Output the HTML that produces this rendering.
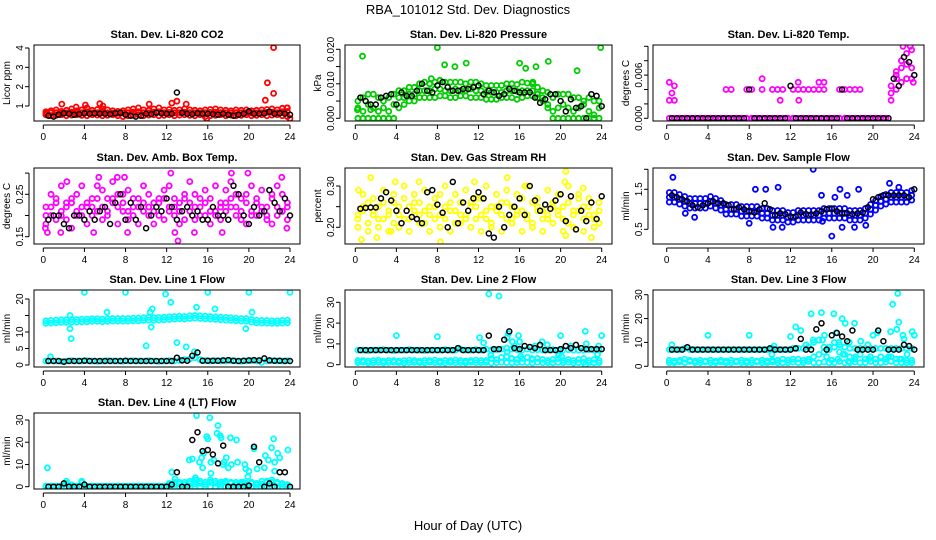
<!DOCTYPE html>
<html><head><meta charset="utf-8">
<style>
html,body{margin:0;padding:0;background:#fff;}
svg{display:block;font-family:"Liberation Sans",Arial,sans-serif;}
</style></head>
<body>
<svg id="chart" width="936" height="540" viewBox="0 0 936 540">
<text x="468" y="14" font-size="13" text-anchor="middle">RBA_101012  Std. Dev. Diagnostics</text>
<text x="468" y="530" font-size="13" text-anchor="middle">Hour of Day (UTC)</text>
</svg>
<script>
// ---- data (colored arrays: hour = 0.25 + 0.5*i ; black arrays: hour = 0.5*(i+1)) ----
const co2Lo=[0.55,0.5,0.52,0.55,0.5,0.53,0.55,0.52,0.5,0.55,0.53,0.5,0.52,0.55,0.5,0.45,0.5,0.52,0.55,0.5,0.53,0.55,0.5,0.52,0.55,0.5,0.53,0.55,0.52,0.5,0.55,0.45,0.5,0.52,0.55,0.5,0.53,0.5,0.52,0.55,0.5,0.52,0.55,0.5,0.53,0.55,0.5,0.45];
const co2Mid=[0.62,0.65,0.66,0.63,0.65,0.68,0.64,0.66,0.7,0.65,0.66,0.68,0.65,0.63,0.62,0.64,0.66,0.68,0.7,0.66,0.65,0.68,0.7,0.66,0.67,0.65,0.66,0.68,0.66,0.65,0.64,0.66,0.67,0.68,0.66,0.65,0.64,0.66,0.65,0.66,0.64,0.65,0.66,0.67,0.68,0.66,0.7,0.72];
const co2Hi=[0.7,0.75,0.8,0.72,0.78,0.85,0.75,0.8,0.9,0.78,0.82,0.85,0.8,0.75,0.72,0.75,0.8,0.85,0.9,0.8,0.78,0.85,0.9,0.8,0.82,0.78,0.8,0.85,0.8,0.78,0.75,0.8,0.82,0.85,0.8,0.78,0.75,0.8,0.78,0.8,0.75,0.78,0.8,0.82,0.85,0.8,0.88,0.9];
const co2Out=[[1.8,1.1],[3.2,0.95],[4.1,1.05],[5.5,1.12],[5.8,1.0],[10.3,1.1],[12.5,1.15],[13,1.25],[13.9,1.1],[21.6,1.3],[21.8,2.2],[22.4,1.65],[22.4,4.02],[15.9,0.35],[24,0.35],[23.7,0.9]];
const co2Black=[0.5,0.45,0.55,0.62,0.6,0.55,0.58,0.62,0.6,0.62,0.6,0.6,0.58,0.62,0.65,0.55,0.5,0.45,0.5,0.6,0.58,0.65,0.62,0.6,0.6,1.7,0.65,0.6,0.58,0.62,0.6,0.6,0.58,0.55,0.6,0.55,0.5,0.55,0.6,0.72,0.6,0.6,0.62,0.7,0.6,0.62,0.6,0.55];

const presLo=[0,0,0,0,0,0,0,0,0.003,0.004,0.005,0.005,0.006,0.006,0.006,0.006,0.0065,0.0065,0.006,0.006,0.0065,0.0065,0.006,0.006,0.006,0.0055,0.0055,0.0055,0.006,0.006,0.006,0.0055,0.006,0.0065,0.0065,0.006,0.005,0.003,0,0,0,0,0,0,0,0,0,0];
const presMid=[0.003,0.002,0.004,0.003,0.002,0.003,0.002,0.004,0.006,0.006,0.007,0.007,0.008,0.008,0.008,0.0085,0.0085,0.008,0.008,0.0085,0.008,0.008,0.0085,0.008,0.008,0.0075,0.0075,0.0075,0.0075,0.008,0.008,0.0078,0.008,0.008,0.008,0.007,0.006,0.004,0.002,0.003,0.004,0.003,0.002,0.003,0.004,0.002,0.001,0.003];
const presHi=[0.005,0.006,0.007,0.007,0.006,0.005,0.006,0.007,0.008,0.008,0.009,0.009,0.010,0.0105,0.010,0.0105,0.011,0.0105,0.0105,0.0105,0.0105,0.010,0.0105,0.0105,0.010,0.0095,0.0095,0.0095,0.0095,0.010,0.010,0.0098,0.0105,0.0102,0.010,0.009,0.008,0.0075,0.006,0.007,0.007,0.007,0.006,0.006,0.005,0.006,0.005,0.005];
const presOut=[[0.7,0.018],[8,0.0205],[8.7,0.0155],[9.7,0.015],[10.8,0.016],[16,0.016],[16.6,0.0145],[17.6,0.015],[18.8,0.0165],[21.6,0.0138],[23.9,0.0205],[0.2,0.0025],[1.5,0.0025],[7.4,0.0115],[17.3,0.0105]];
const presBlack=[0.006,0.005,0.004,0.004,0.006,0.0065,0.007,0.004,0.0075,0.0065,0.0065,0.008,0.010,0.008,0.0075,0.0095,0.0105,0.009,0.008,0.008,0.0085,0.0085,0.009,0.0095,0.007,0.008,0.0075,0.0065,0.007,0.0085,0.008,0.0075,0.0075,0.0075,0.006,0.0045,0.0055,0.007,0.007,0.005,0.002,0.0055,0.003,0.0035,0,0.007,0.0065,0.0035];

const tempLo=[0,0,0,0,0,0,0,0,0,0,0,0,0,0,0,0,0,0,0,0,0,0,0,0,0,0,0,0,0,0,0,0,0,0,0,0,0,0,0,0,0,0,0,0.0025,0.004,0.005,0.0055,0.0055];
const tempMid=[0.0025,0.0025,0,0,0,0,0,0,0,0,0,0.004,0.004,0,0,0.004,0.004,0,0.004,0,0.004,0.004,0.004,0,0.004,0.004,0.004,0.004,0.004,0.004,0.004,0,0,0.004,0.004,0.004,0.004,0.004,0,0,0,0,0,0.0035,0.006,0.007,0.0075,0.007];
const tempHi=[0.005,0.0045,0,0,0,0,0,0,0,0,0,0,0,0,0,0,0,0,0.0055,0,0,0,0,0,0,0.005,0,0,0,0.005,0.005,0,0,0,0,0,0,0,0,0,0,0,0,0.0045,0.0065,0.008,0.009,0.0095];
const tempOut=[[22.9,0.01],[23.6,0.01],[22.3,0.0055],[23.9,0.005],[0.5,0.0035],[11,0.0025],[12.8,0.0025]];
const tempBlack=[0,0,0,0,0,0,0,0,0,0,0,0,0,0,0,0.004,0,0,0,0,0,0,0,0.0045,0,0,0,0,0,0,0,0,0,0.004,0,0,0,0,0,0,0,0,0,0.0055,0.0045,0.0085,0.0078,0.006];

const ambA=[0.22,0.2,0.24,0.21,0.19,0.23,0.25,0.2,0.22,0.24,0.21,0.26,0.2,0.23,0.22,0.25,0.19,0.24,0.22,0.21,0.25,0.23,0.2,0.26,0.22,0.24,0.21,0.19,0.23,0.25,0.22,0.2,0.24,0.21,0.23,0.26,0.22,0.2,0.24,0.25,0.21,0.23,0.22,0.2,0.24,0.22,0.21,0.23];
const ambB=[0.18,0.25,0.19,0.27,0.23,0.17,0.21,0.27,0.18,0.2,0.27,0.19,0.24,0.28,0.18,0.21,0.26,0.2,0.18,0.27,0.2,0.18,0.24,0.19,0.27,0.2,0.18,0.25,0.28,0.19,0.2,0.26,0.18,0.27,0.19,0.21,0.28,0.25,0.19,0.18,0.27,0.2,0.26,0.19,0.18,0.27,0.25,0.19];
const ambC=[0.2,0.22,0.23,0.2,0.22,0.24,0.2,0.22,0.23,0.22,0.24,0.22,0.21,0.24,0.25,0.23,0.21,0.22,0.24,0.23,0.22,0.21,0.23,0.24,0.21,0.22,0.23,0.24,0.21,0.22,0.24,0.23,0.21,0.2,0.22,0.23,0.24,0.22,0.21,0.23,0.2,0.24,0.21,0.22,0.25,0.2,0.21,0.22];
const ambOut=[[0.2,0.17],[0.4,0.16],[1.7,0.16],[2.3,0.28],[4.9,0.16],[5.4,0.29],[7.2,0.29],[7.9,0.29],[8.2,0.16],[12.4,0.3],[12.8,0.16],[13.1,0.14],[13.3,0.32],[14.7,0.16],[17.4,0.16],[18.3,0.3],[19.9,0.3],[20.6,0.32],[23.2,0.29],[23.7,0.17]];
const ambBlack=[0.19,0.2,0.2,0.18,0.17,0.2,0.2,0.19,0.21,0.19,0.21,0.22,0.18,0.23,0.25,0.19,0.23,0.19,0.22,0.17,0.2,0.22,0.21,0.24,0.22,0.19,0.21,0.22,0.2,0.21,0.19,0.19,0.22,0.2,0.2,0.19,0.27,0.25,0.2,0.18,0.22,0.2,0.21,0.26,0.23,0.21,0.24,0.2];

const rhA=[0.23,0.25,0.21,0.24,0.22,0.26,0.23,0.21,0.25,0.27,0.22,0.24,0.26,0.21,0.23,0.25,0.28,0.22,0.24,0.21,0.26,0.23,0.25,0.22,0.27,0.24,0.21,0.25,0.23,0.26,0.22,0.24,0.27,0.23,0.21,0.25,0.24,0.22,0.26,0.23,0.25,0.21,0.24,0.27,0.22,0.25,0.23,0.24];
const rhB=[0.2,0.28,0.19,0.27,0.2,0.29,0.19,0.28,0.2,0.3,0.19,0.28,0.21,0.29,0.19,0.27,0.2,0.3,0.19,0.28,0.21,0.29,0.2,0.27,0.19,0.3,0.2,0.28,0.19,0.29,0.21,0.28,0.19,0.3,0.2,0.27,0.19,0.29,0.21,0.28,0.19,0.3,0.2,0.28,0.19,0.27,0.2,0.26];
const rhC=[0.22,0.24,0.26,0.23,0.25,0.22,0.24,0.26,0.23,0.22,0.25,0.26,0.23,0.24,0.25,0.22,0.23,0.25,0.26,0.24,0.23,0.22,0.26,0.25,0.23,0.22,0.25,0.24,0.26,0.22,0.25,0.23,0.24,0.22,0.26,0.24,0.22,0.23,0.25,0.24,0.22,0.26,0.23,0.24,0.25,0.23,0.22,0.21];
const rhOut=[[0.3,0.29],[0.6,0.17],[1.5,0.32],[2.1,0.175],[3.9,0.31],[6.2,0.31],[8.3,0.165],[11.6,0.31],[14.8,0.32],[16.5,0.3],[20.5,0.335],[20.4,0.31],[20.5,0.18],[23,0.175],[22.2,0.295],[3.5,0.19]];
const rhBlack=[0.245,0.247,0.248,0.248,0.27,0.285,0.265,0.24,0.21,0.24,0.225,0.22,0.21,0.285,0.29,0.255,0.235,0.2,0.31,0.21,0.26,0.24,0.27,0.285,0.27,0.185,0.175,0.25,0.2,0.23,0.25,0.27,0.23,0.3,0.265,0.24,0.255,0.245,0.265,0.28,0.215,0.275,0.195,0.24,0.215,0.26,0.22,0.275];

const flowLo=[1.18,1.18,1.13,1.08,1.03,1.03,1.03,1.03,1.08,1.03,0.98,0.88,0.88,0.88,0.83,0.83,0.83,0.83,0.78,0.78,0.73,0.73,0.73,0.68,0.68,0.73,0.73,0.73,0.73,0.73,0.78,0.78,0.78,0.78,0.78,0.73,0.73,0.73,0.78,0.88,0.98,1.08,1.13,1.18,1.18,1.18,1.18,1.23];
const flowMid=[1.3,1.3,1.25,1.2,1.15,1.15,1.15,1.15,1.2,1.15,1.1,1.0,1.0,1.0,0.95,0.95,0.95,0.95,0.9,0.9,0.85,0.85,0.85,0.8,0.8,0.85,0.85,0.85,0.85,0.85,0.9,0.9,0.9,0.9,0.9,0.85,0.85,0.85,0.9,1.0,1.1,1.2,1.25,1.3,1.3,1.3,1.3,1.35];
const flowHi=[1.42,1.42,1.37,1.32,1.27,1.27,1.27,1.27,1.32,1.27,1.22,1.12,1.12,1.12,1.07,1.07,1.07,1.07,1.02,1.02,0.97,0.97,0.97,0.92,0.92,0.97,0.97,0.97,0.97,0.97,1.02,1.02,1.02,1.02,1.02,0.97,0.97,0.97,1.02,1.12,1.22,1.32,1.37,1.42,1.42,1.42,1.42,1.47];
const flowOut=[[0.6,1.8],[8.6,1.5],[9.6,1.5],[10.8,1.55],[14.2,2.0],[16,0.33],[15,1.35],[16.8,1.5],[17.5,1.35],[18.6,1.5],[21.6,1.65],[8,0.65],[10.3,0.55],[11.2,0.55],[15.1,0.7],[17,0.55],[18.2,0.55],[19.3,0.6],[2.7,0.8],[1.8,0.9],[16.3,1.3],[22.5,1.55]];
const flowBlack=[1.35,1.3,1.25,1.2,1.1,1.05,1.1,1.15,1.2,1.15,1.15,1.1,1.0,1.05,1.0,0.95,0.92,1.0,1.15,1.0,0.85,0.9,0.88,0.82,0.82,0.92,0.88,0.87,0.9,0.95,1.0,1.02,0.95,0.9,0.9,0.88,0.9,0.92,1.05,1.25,1.3,1.35,1.35,1.35,1.35,1.35,1.3,1.5];

const line1Lo=[1.2,1.3,1.2,1.1,1.2,1.3,1.2,1.2,1.3,1.2,1.1,1.2,1.3,1.2,1.2,1.1,1.2,1.3,1.2,1.2,1.3,1.2,1.1,1.2,1.3,1.2,1.4,1.6,1.8,2.2,1.6,1.3,1.2,1.3,1.2,1.2,1.3,1.2,1.1,1.2,1.3,1.2,0.8,1.2,1.3,1.2,1.2,1.3];
const line1Mid=[12.6,12.7,12.8,12.9,12.9,13.0,13.0,13.1,13.1,13.2,13.2,13.1,13.2,13.3,13.3,13.3,13.3,13.4,13.4,13.5,13.6,13.5,13.6,13.7,13.8,13.9,14.0,13.9,14.1,14.2,14.1,14.0,13.9,13.8,13.7,13.6,13.5,13.4,13.3,13.3,13.0,12.8,12.7,12.7,12.6,12.6,12.7,12.8];
const line1Hi=[13.4,13.5,13.6,13.7,13.7,13.8,13.8,13.9,13.9,14.0,14.0,13.9,14.0,14.1,14.1,14.1,14.1,14.2,14.2,14.3,14.4,14.3,14.4,14.5,14.6,14.7,14.8,14.7,14.9,15.0,14.9,14.8,14.7,14.6,14.5,14.4,14.3,14.2,14.1,14.1,13.8,13.6,13.5,13.5,13.4,13.4,13.5,13.6];
const line1Out=[[2.6,11],[2.7,8],[2.6,15],[4,22],[6.2,16],[8,22],[10,5.8],[10.4,16],[10.5,11.5],[10.6,17],[11.9,21.5],[12.4,19],[13,6.8],[13.9,5.5],[14.7,4],[14.9,17.5],[16,22],[16.7,17],[19.7,11],[20,22],[20.3,16],[24,22],[0.7,2.5]];
const line1Black=[1.2,1.2,1.2,1.0,1.2,1.2,1.2,1.3,1.2,1.2,1.2,1.2,1.2,1.2,1.2,1.3,1.2,1.2,1.2,1.2,1.2,1.2,1.2,1.2,1.2,2.2,1.4,1.3,2.8,3.8,1.3,1.3,1.3,1.3,1.4,1.5,1.3,1.2,1.3,1.4,1.5,1.4,2.0,1.4,1.3,1.3,1.2,1.2];

const line2Lo=[1,1.2,0.8,1,1.1,0.9,1,1.2,1,0.8,1,1.1,1,0.9,1.2,1,1,0.8,1.1,1,1,0.9,1.2,1,1,1.1,0.8,1,1.2,1,0.9,1,1.1,1,0.8,1.2,1,1,0.9,1.1,1,1.2,0.8,1,1.1,1,0.9,1];
const line2Mid=[2,2,1.8,2,2.2,1.8,2,2,1.8,2,2.2,2,1.8,2,2,2.2,1.8,2,2,2.2,2,1.8,2,2.2,2,2,3,2.5,3.5,4,3,2.5,3,3.5,2.5,3,2.5,2,2.5,3,2,2.5,2,2.5,3,2,2.5,2];
const line2Hi=[7,7,6.8,7,7,7.2,7,6.8,7,7,7.2,7,7,6.8,7,7,7,7.2,7,7,7.5,7,7,7.2,7,7.5,7,7.2,7.5,8,7.5,7.2,7,7.5,7,7.2,7,7,7.2,7,7,7.2,7,7,7,7.2,7,7];
const line2Out=[[4,14],[8,13.5],[12.1,13],[12.5,10.5],[13,34],[14,33],[14.8,13],[14.9,15],[15.9,14],[16,11],[18.2,11],[20,14],[22.4,16],[22.5,10],[24,14],[13.2,4.5],[15.2,3],[16.1,4],[17.2,3],[19.8,4.5],[20.1,4],[22.4,0],[14.8,6],[15.5,9],[17.5,9],[18.7,9.5],[21,9],[23.7,9],[23.6,5],[15.3,11]];
const line2Black=[7,7,7,7,7,7,7,7,7,7,7,7,7,7,7,7,7,7,7,8,7,7,7,7,7,14,7.5,7.5,12,16,8,7.5,9,8.5,8,9.5,7,7,7,7.5,9,8,9.5,8,7.5,7.5,7.5,7.5];

const line3Lo=[1.5,1.5,1.8,1.5,2,1.5,1.5,1.8,1.5,1.5,1.8,1.5,1.5,1.8,1.5,1.5,1.5,1.8,1.5,1.5,1.8,1.5,1.5,1.5,1.8,1.5,1.5,2,1.5,1.5,1.8,1.5,1.5,2,1.5,1.5,1.8,1.5,1.5,2,1.5,1.5,1.8,2,1.5,1.5,1.5,1.5];
const line3Mid=[2.5,2.2,2.5,3,2.5,2.2,2.5,2.2,2.5,2.2,2.5,2.2,2.5,2.2,2.5,2.2,2.5,2.2,2.5,2.2,2.5,2.5,3,2.5,3,3,2.5,3,4,5,6,7,8,6,5,4,3,5,3,4,3,4,3,4,3,3,2.5,2.5];
const line3Hi=[7,7,7,7.5,7,7,7,7,7,7,7,7,7,7,7,7,7,7,7,7,7.5,7,7,7,7.5,7.5,7.5,8,10,11,8,8,10,9,8,7.5,7.5,7.5,7.5,7.5,7.5,7.5,7.5,7.5,7.5,7.5,7.5,7.5];
const line3Out=[[0.5,9],[4,13],[8,13],[10.2,5],[10.4,8.5],[12,12.5],[12.5,16.5],[13,15],[13.5,9],[14,22],[14.2,11],[15,22.5],[15.1,11],[15.3,13],[16.2,22],[16.4,14],[16.7,10],[17,20],[17.3,18],[17.7,10],[18.2,18],[18.8,10.5],[19.5,9],[20,13],[20.4,14],[21.7,14.5],[21.9,26],[22.3,15.5],[22.5,18.5],[22.4,30.5],[22.9,13],[23,11.5],[23.8,14.5],[24,13],[15.5,4],[16,2.5],[16.6,3],[17.1,5],[17.6,2],[18.3,4],[19.6,3],[21.5,4],[22.6,3],[23.3,5]];
const line3Black=[7,7,7,8,7,7,7,7,7,7,7,7,7,7,7,7,7,7,7,7.5,7,7,7,7,7.5,11.5,7,7,15.5,18,7,13,14,12.5,10.5,15,7,7,7,7,15,10.5,7,7,7,9,8.5,7];

const line4Lo=[0,0,0,0,0,0,0,0,0,0,0,0,0,0,0,0,0,0,0,0,0,0,0,0,0,0,0,0,0,0,0,0,0,0,0,0,0,0,0,0,0,0,0,0,0,0,0,0];
const line4Mid=[0.3,0.3,0.3,0.3,1.5,0.8,0.3,2.0,0.3,0.3,0.3,0.3,0.3,0.3,0.3,0.3,0.3,0.3,0.3,0.3,0.3,0.3,0.3,0.3,0.8,1,1.2,1,1.5,1.2,1.5,1,2,1.5,1,2,1.5,1,1.2,1,1.5,1,1.2,2,2,1.5,1,0.8];
const line4Hi=[0,0,0,0,2.5,0,0,2.5,0,0,0,0,0,0,0,0,0,0,0,0,0,0,0,0,1.5,2,2,2,2.5,3,2.5,2,3,2.5,2,2.5,2,2,2,1.5,2,1.5,2.5,2.5,3,2,1.5,1];
const line4Out=[[0.4,8.5],[12.5,6.5],[12.8,3.5],[14.2,12],[14.5,12.5],[14.8,4],[14.9,32],[15.2,11],[15.4,13],[15.5,8.5],[15.6,15],[15.9,22.5],[16,21.5],[16.2,31],[16.3,6],[16.3,11],[16.6,12],[16.9,24],[17,27.5],[17.2,23],[17.3,22],[17.5,10],[17.6,11],[17.8,13],[18,8.5],[18.2,22],[18.3,10],[18.8,21],[18.9,11],[19.6,10],[19.7,8],[19.9,4.5],[20,7],[20.5,17],[20.8,8],[21.5,8.5],[21.6,14],[21.9,12],[22.2,17.5],[22.4,21.5],[22.5,11],[22.5,7],[22.8,15],[23,13],[23.8,16.5],[14.9,3],[16.3,2],[17.5,2],[19.5,2]];
const line4Black=[0,0,0,1.5,0,0,0,1,0,0,0,0,0,0,0,0,0,0,0,0,0,0,0,0,1,6.5,0,0,21,24.5,16,16.5,14.5,10.5,18.5,0,0,0,0,0.5,18,11,0,1.5,0,6.5,6.5,0];

const xTicks=[0,4,8,12,16,20,24];
const xTickLabels=["0","4","8","12","16","20","24"];

// ---- layout ----
const cols=[{l:34,r:300,x0:43.3,x24:290},{l:345,r:612,x0:355.3,x24:601.7},{l:653,r:924,x0:666.7,x24:914.3}];
const rows=[{t:45,b:121},{t:168,b:244},{t:290,b:367},{t:413,b:489}];

const panels=[
 {name:'co2',title:'Stan. Dev. Li-820 CO2',ylab:'Licor ppm',col:0,row:0,color:'#ff0000',cal:[1,106,4,48],ticks:[[1,'1'],[2,'2'],[3,'3'],[4,'4']],series:[co2Lo,co2Mid,co2Hi],out:co2Out,black:co2Black},
 {name:'pressure',title:'Stan. Dev. Li-820 Pressure',ylab:'kPa',col:1,row:0,color:'#00cc00',cal:[0,118.3,0.02,49.3],ticks:[[0,'0.000'],[0.005,''],[0.01,'0.010'],[0.015,''],[0.02,'0.020']],series:[presLo,presMid,presHi],out:presOut,black:presBlack},
 {name:'temp',title:'Stan. Dev. Li-820 Temp.',ylab:'degrees C',col:2,row:0,color:'#ff00ff',cal:[0,118.3,0.006,75.1],ticks:[[0,'0.000'],[0.002,''],[0.004,''],[0.006,'0.006'],[0.008,''],[0.01,'']],series:[tempLo,tempMid,tempHi],out:tempOut,black:tempBlack},
 {name:'amb-box-temp',title:'Stan. Dev. Amb. Box Temp.',ylab:'degrees C',col:0,row:1,color:'#ff00ff',cal:[0.15,236.7,0.25,194.3],ticks:[[0.15,'0.15'],[0.2,''],[0.25,'0.25'],[0.3,'']],series:[ambA,ambB,ambC],out:ambOut,black:ambBlack},
 {name:'gas-stream-rh',title:'Stan. Dev. Gas Stream RH',ylab:'percent',col:1,row:1,color:'#ffff00',cal:[0.2,227.3,0.3,186],ticks:[[0.2,'0.20'],[0.25,''],[0.3,'0.30']],series:[rhA,rhB,rhC],out:rhOut,black:rhBlack},
 {name:'sample-flow',title:'Stan. Dev. Sample Flow',ylab:'ml/min',col:2,row:1,color:'#0000ff',cal:[0.5,229.3,1.5,189.3],ticks:[[0.5,'0.5'],[1,''],[1.5,'1.5'],[2,'']],series:[flowLo,flowMid,flowHi],out:flowOut,black:flowBlack},
 {name:'line1-flow',title:'Stan. Dev. Line 1 Flow',ylab:'ml/min',col:0,row:2,color:'#00ffff',cal:[0,365,20,299],ticks:[[0,'0'],[5,'5'],[10,'10'],[15,''],[20,'20']],series:[line1Lo,line1Mid,line1Hi],out:line1Out,black:line1Black},
 {name:'line2-flow',title:'Stan. Dev. Line 2 Flow',ylab:'ml/min',col:1,row:2,color:'#00ffff',cal:[0,364.7,30,302.3],ticks:[[0,'0'],[10,'10'],[20,'20'],[30,'30']],series:[line2Lo,line2Mid,line2Hi],out:line2Out,black:line2Black},
 {name:'line3-flow',title:'Stan. Dev. Line 3 Flow',ylab:'ml/min',col:2,row:2,color:'#00ffff',cal:[0,366.3,30,294.7],ticks:[[0,'0'],[10,'10'],[20,'20'],[30,'30']],series:[line3Lo,line3Mid,line3Hi],out:line3Out,black:line3Black},
 {name:'line4-flow',title:'Stan. Dev. Line 4 (LT) Flow',ylab:'ml/min',col:0,row:3,color:'#00ffff',cal:[0,486.7,30,420],ticks:[[0,'0'],[10,'10'],[20,'20'],[30,'30']],series:[line4Lo,line4Mid,line4Hi],out:line4Out,black:line4Black}
];

const NS='http://www.w3.org/2000/svg';
const svg=document.getElementById('chart');
function mk(tag,attrs,parent){const e=document.createElementNS(NS,tag);for(const k in attrs)e.setAttribute(k,attrs[k]);parent.appendChild(e);return e;}

panels.forEach(p=>{
  const c=cols[p.col], r=rows[p.row];
  const xs=h=>c.x0+(c.x24-c.x0)*h/24;
  const ys=v=>p.cal[1]+(v-p.cal[0])*(p.cal[3]-p.cal[1])/(p.cal[2]-p.cal[0]);
  const g=mk('g',{},svg);
  
  
  const clipId='clip-'+p.name;
  const cp=mk('clipPath',{id:clipId},g);
  mk('rect',{x:c.l,y:r.t,width:c.r-c.l,height:r.b-r.t},cp);
  const pts=mk('g',{'clip-path':'url(#'+clipId+')',fill:'none'},g);
  
  
  function dot(h,v,col,nm,sw){
    const e=mk('circle',{cx:xs(h).toFixed(1),cy:ys(v).toFixed(1),r:2.5,stroke:col,'stroke-width':sw},pts);
    
    
  }
  p.series.forEach(arr=>arr.forEach((v,i)=>dot(0.25+0.5*i,v,p.color,p.name+'-point',1.8)));
  p.out.forEach(o=>dot(o[0],o[1],p.color,p.name+'-outlier',1.8));
  p.black.forEach((v,i)=>dot(0.5*(i+1),v,'#000',p.name+'-hourly-point',1.5));
  const box=mk('rect',{x:c.l,y:r.t,width:c.r-c.l,height:r.b-r.t,fill:'none',stroke:'#000','stroke-width':1},g);
  
  
  const t=mk('text',{x:(c.l+c.r)/2,y:r.t-7,'font-size':11,'font-weight':'bold','text-anchor':'middle'},g);
  t.textContent=p.title;
  
  
  const yl=mk('text',{x:0,y:0,'font-size':10,'text-anchor':'middle',transform:'translate('+(c.l-24)+','+((r.t+r.b)/2)+') rotate(-90)'},g);
  yl.textContent=p.ylab;
  
  
  mk('line',{x1:c.l-5,x2:c.l-5,y1:ys(p.ticks[0][0]),y2:ys(p.ticks[p.ticks.length-1][0]),stroke:'#000'},g);
  p.ticks.forEach(tk=>{
    const y=ys(tk[0]);
    mk('line',{x1:c.l-9,x2:c.l-5,y1:y,y2:y,stroke:'#000'},g);
    if(tk[1]){
      const tl=mk('text',{x:0,y:0,'font-size':10,'text-anchor':'middle',transform:'translate('+(c.l-11)+','+y+') rotate(-90)'},g);
      tl.textContent=tk[1];
      
      
    }
  });
  mk('line',{x1:xs(0),x2:xs(24),y1:r.b+4,y2:r.b+4,stroke:'#000'},g);
  xTicks.forEach((h,i)=>{
    mk('line',{x1:xs(h),x2:xs(h),y1:r.b+4,y2:r.b+8,stroke:'#000'},g);
    const xl=mk('text',{x:xs(h),y:r.b+19,'font-size':10,'text-anchor':'middle'},g);
    xl.textContent=xTickLabels[i];
    
    
  });
});
</script>
</body></html>
